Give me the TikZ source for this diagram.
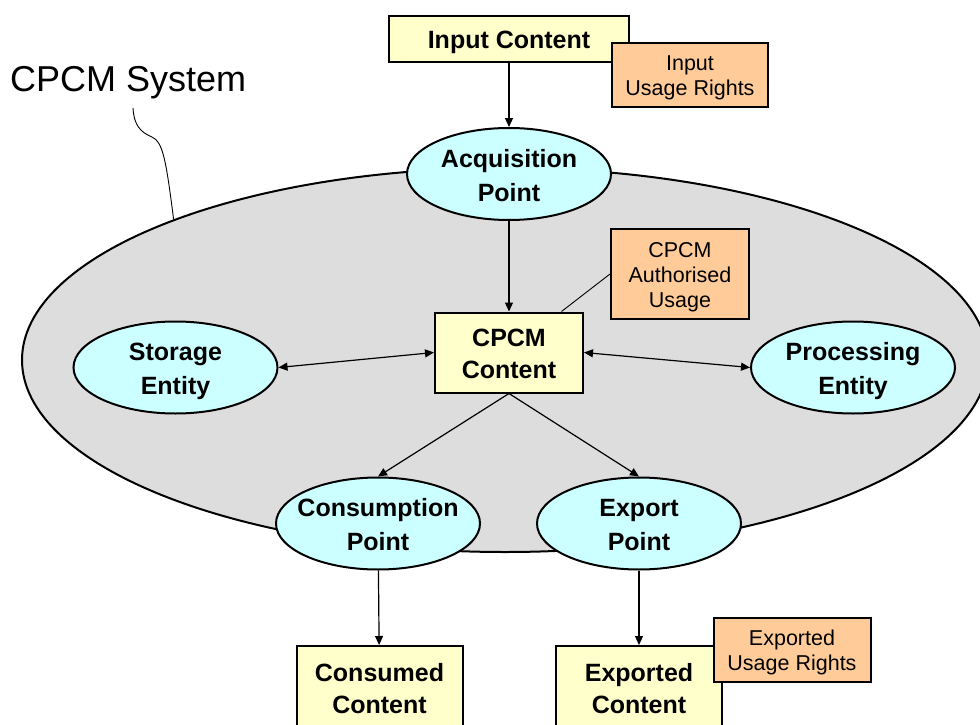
\documentclass[tikz,border=0pt]{standalone}
\usepackage{fontspec}
\setmainfont{Liberation Sans}
\usetikzlibrary{shapes.geometric,arrows.meta,calc}
\definecolor{ylw}{HTML}{FFFFCC}
\definecolor{peach}{HTML}{FFCC99}
\definecolor{cyn}{HTML}{CCFFFF}
\definecolor{sysgray}{HTML}{DDDDDD}
\newcommand\ctext[1]{\raisebox{-3.5pt}[\height][\depth]{\begin{tabular}{@{}c@{}}#1\end{tabular}}}
\newcommand\ptext[1]{\makebox[0pt]{\raisebox{-3.5pt}[\dimexpr\height-20pt\relax][\dimexpr\depth-20pt\relax]{\begin{tabular}{@{}c@{}}#1\end{tabular}}}}
\begin{document}
\begin{tikzpicture}[x=1pt,y=-1pt,
  content/.style={draw, line width=2pt, fill=ylw, inner sep=0pt, font=\fontsize{25}{32}\selectfont\bfseries},
  rights/.style={draw, line width=2pt, fill=peach, inner sep=0pt, font=\fontsize{21.5}{25}\selectfont},
  point/.style={draw, ellipse, line width=2pt, fill=cyn, inner sep=0pt, minimum width=204pt, minimum height=92pt, font=\fontsize{25}{34}\selectfont\bfseries},
  flow/.style={line width=1.2pt, -{Triangle[length=9pt,width=8pt]}},
  both/.style={line width=1.2pt, {Triangle[length=9pt,width=8pt]}-{Triangle[length=9pt,width=8pt]}},
  leader/.style={line width=0.9pt}]
\useasboundingbox (0,0) rectangle (980,725);
\clip (0,0) rectangle (980,725);
\node[draw, ellipse, line width=2pt, fill=sysgray, minimum width=966pt, minimum height=384pt, inner sep=0pt] (sys) at (505,360) {};
\node[font=\fontsize{36}{42}\selectfont, anchor=base west, inner sep=0pt] (syslabel) at (10,92) {CPCM System};
\coordinate (lstart) at (133,108);
\draw[leader] (lstart) .. controls (134,125) and (140,132) .. (152,137) .. controls (163,142) and (166,160) .. (sys.157.6);

\node[content, minimum width=240pt, minimum height=46pt] (input) at (509,39) {\ctext{Input Content}};
\node[rights, minimum width=156pt, minimum height=64pt] (inrights) at (690,75) {\ctext{Input\\Usage Rights}};
\node[point] (acq) at (509,174) {\ptext{Acquisition\\Point}};
\node[rights, minimum width=138pt, minimum height=90pt] (auth) at (680,274) {\ctext{CPCM\\Authorised\\Usage}};
\node[content, minimum width=148pt, minimum height=80pt] (cpcm) at (509,352.5) {\ctext{CPCM\\Content}};
\node[point] (store) at (175.5,367.5) {\ptext{Storage\\Entity}};
\node[point] (proc) at (853,367.5) {\ptext{Processing\\Entity}};
\node[point] (cons) at (378,523.5) {\ptext{Consumption\\Point}};
\node[point] (exp) at (639,523.5) {\ptext{Export\\Point}};
\node[content, minimum width=166pt, minimum height=84pt] (consumed) at (379.5,688) {\ctext{Consumed\\Content}};
\node[content, minimum width=166pt, minimum height=84pt] (exported) at (639,688) {\ctext{Exported\\Content}};
\node[rights, minimum width=157pt, minimum height=64pt] (exrights) at (792,649.5) {\ctext{Exported\\Usage Rights}};

\draw[flow] (input) -- (acq);
\draw[flow] (acq) -- (cpcm);
\draw[both] (store.east) -- (cpcm.west);
\draw[both] (cpcm.east) -- (proc.west);
\draw[flow] (cpcm.south) -- (cons.north);
\draw[flow] (cpcm.south) -- (exp.north);
\draw[flow] (cons) -- (consumed);
\draw[flow] (exp) -- (exported);
\draw[leader] (auth.west) -- ($(cpcm.north)!0.7!(cpcm.north east)$);
\end{tikzpicture}
\end{document}
